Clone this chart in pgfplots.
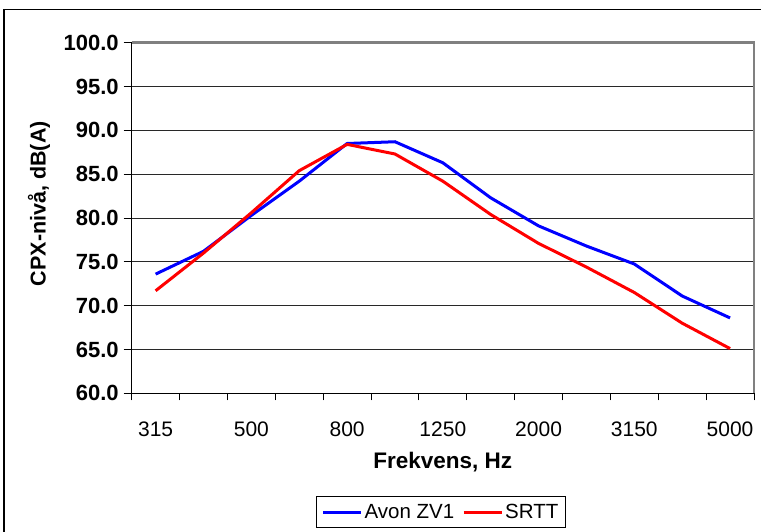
\documentclass[border=0pt]{standalone}
\usepackage{fontspec}
\setmainfont{Liberation Sans}
\usepackage{pgfplots}
\pgfplotsset{compat=1.18}
\definecolor{bordergray}{RGB}{128,128,128}
\definecolor{gridgray}{RGB}{40,40,40}
\begin{document}
\begin{tikzpicture}
\useasboundingbox (0pt,0pt) rectangle (761pt,531pt);
\clip (0pt,0pt) rectangle (761pt,531pt);
\draw[black, line width=1.3pt] (4pt,521.5pt) rectangle (780pt,-30pt);
\begin{axis}[
  at={(131.7pt,137.7pt)}, anchor=south west,
  scale only axis, width=622.3pt, height=350.6pt,
  xmin=-0.5, xmax=12.5, ymin=60, ymax=100,
  clip=false,
  xtick={0,2,...,12},
  xticklabels={315,500,800,1250,2000,3150,5000},
  minor xtick={-0.5,0.5,...,12.5},
  ytick={60,65,...,100},
  xtick pos=lower, ytick pos=lower,
  tick align=outside,
  major tick length=8pt, minor tick length=7pt,
  major x tick style={draw=none},
  tick style={black, line width=1pt},
  minor tick style={black, line width=1pt},
  ymajorgrids,
  major grid style={gridgray, line width=1pt},
  axis line style={black, line width=1.3pt},
  yticklabel style={font=\fontsize{22}{26}\selectfont\bfseries, xshift=-1.5pt,
    /pgf/number format/.cd, fixed, fixed zerofill, precision=1, assume math mode=true},
  xticklabel style={font=\fontsize{21}{25}\selectfont, anchor=base, yshift=-35.4pt},
  xlabel={Frekvens, Hz},
  xlabel style={font=\fontsize{22.5}{26}\selectfont\bfseries, at={(axis description cs:0.5,0)}, anchor=base, yshift=-74.7pt},
  ylabel={CPX-nivå, dB(A)},
  ylabel style={font=\fontsize{21.5}{25}\selectfont\bfseries, at={(axis description cs:-0.149,0.541)}, anchor=center},
  legend columns=2,
  legend style={at={(axis description cs:0.497,-0.292)}, anchor=north,
    draw=black, line width=1pt, font=\fontsize{20.5}{24}\selectfont,
    inner xsep=5.5pt, inner ysep=6pt,
    /tikz/every even column/.append style={column sep=6pt}},
  legend image code/.code={\draw[#1] (0pt,0pt) -- (38pt,0pt);},
]
\addplot[blue, line width=3pt] coordinates {
 (0,73.6) (1,76.2) (2,80.3) (3,84.2) (4,88.5) (5,88.7) (6,86.3)
 (7,82.3) (8,79.1) (9,76.8) (10,74.75) (11,71.1) (12,68.6)};
\addlegendentry{Avon ZV1}
\addplot[red, line width=3pt] coordinates {
 (0,71.7) (1,76.0) (2,80.6) (3,85.4) (4,88.4) (5,87.3) (6,84.2)
 (7,80.4) (8,77.1) (9,74.4) (10,71.5) (11,68.0) (12,65.1)};
\addlegendentry{SRTT}
\draw[bordergray, line width=2.5pt] (rel axis cs:0,1) -- (rel axis cs:1,1) -- (rel axis cs:1,0);
\end{axis}
\end{tikzpicture}
\end{document}
